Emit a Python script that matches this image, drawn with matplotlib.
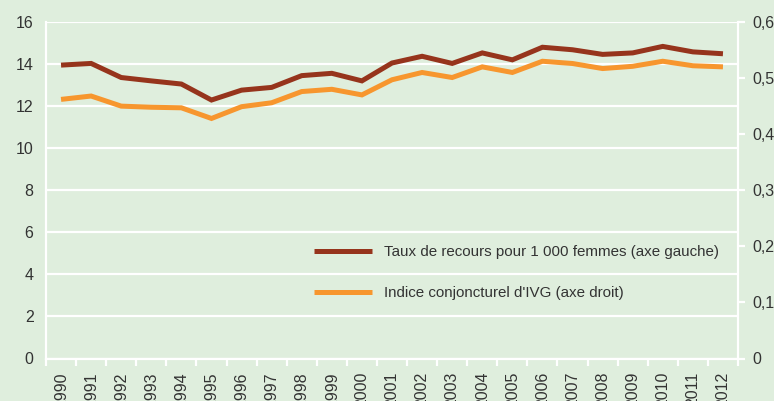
import matplotlib
matplotlib.use('Agg')
import matplotlib.pyplot as plt
import numpy as np

# data
years = [str(y) for y in range(1990, 2013)]
taux_recours = [13.95, 14.03, 13.36, 13.2, 13.05, 12.29, 12.76, 12.89, 13.45, 13.56,
                13.2, 14.05, 14.37, 14.03, 14.53, 14.2, 14.8, 14.68, 14.46, 14.53,
                14.84, 14.58, 14.49]
indice_ivg = [0.462, 0.468, 0.450, 0.448, 0.447, 0.428, 0.449, 0.456, 0.476, 0.480,
              0.470, 0.497, 0.510, 0.501, 0.520, 0.510, 0.530, 0.526, 0.517, 0.521,
              0.530, 0.522, 0.520]
left_ticks = np.arange(0, 17, 2)
right_ticks = np.arange(0, 0.61, 0.1)
right_labels = ['0', '0,1', '0,2', '0,3', '0,4', '0,5', '0,6']
label_taux = 'Taux de recours pour 1 000 femmes (axe gauche)'
label_ivg = "Indice conjoncturel d'IVG (axe droit)"

bg = '#dfeedd'
red = '#96341c'
orange = '#f7962e'
txt = '#333333'

plt.rcParams['font.family'] = ['Liberation Sans', 'DejaVu Sans']
plt.rcParams['font.size'] = 11.5

fig = plt.figure(figsize=(7.74, 4.01), dpi=100, facecolor=bg)
ax = fig.add_axes([46 / 774, 1 - 358.5 / 401, 692 / 774, 336.5 / 401])
ax.set_facecolor(bg)
x = np.arange(len(years))

l1, = ax.plot(x, taux_recours, color=red, linewidth=3.6, solid_capstyle='butt',
              solid_joinstyle='miter', zorder=3)
ax.set_ylim(0, 16)
ax.set_yticks(left_ticks)
ax.set_yticklabels([str(v) for v in left_ticks])
ax.set_xlim(-0.5, len(years) - 0.5)
ax.set_xticks(x)
ax.set_xticklabels(years, rotation=90, va='top', ha='center')
ax.set_xticks(np.arange(-0.5, len(years)), minor=True)
ax.tick_params(axis='x', which='major', length=0, pad=9.5, colors=txt)
ax.tick_params(axis='x', which='minor', length=5, width=1.6, color='white', direction='out')
ax.tick_params(axis='y', length=0, pad=9, colors=txt)
ax.grid(axis='y', color='white', linewidth=1.6)
ax.set_axisbelow(True)
for s in ['top', 'right']:
    ax.spines[s].set_visible(False)
for s in ['left', 'bottom']:
    ax.spines[s].set_color('white')
    ax.spines[s].set_linewidth(1.6)

ax2 = ax.twinx()
l2, = ax2.plot(x, indice_ivg, color=orange, linewidth=3.6, solid_capstyle='butt',
               solid_joinstyle='miter', zorder=3)
ax2.set_ylim(0, 0.6)
ax2.set_yticks(right_ticks)
ax2.set_yticklabels(right_labels)
ax2.tick_params(axis='y', length=5, width=1.6, color='white', pad=5, labelcolor=txt)
for s in ['top', 'left', 'bottom']:
    ax2.spines[s].set_visible(False)
ax2.spines['right'].set_color('white')
ax2.spines['right'].set_linewidth(1.6)

ax2.legend([l1, l2], [label_taux, label_ivg], loc='upper left', frameon=False,
           bbox_to_anchor=(314 / 774, 1 - 245 / 401), bbox_transform=fig.transFigure,
           handlelength=3.8, handletextpad=0.85, labelspacing=1.8, borderpad=0,
           borderaxespad=0, fontsize=10.9, labelcolor=txt)

fig.savefig('out.png', dpi=100, facecolor=bg)
